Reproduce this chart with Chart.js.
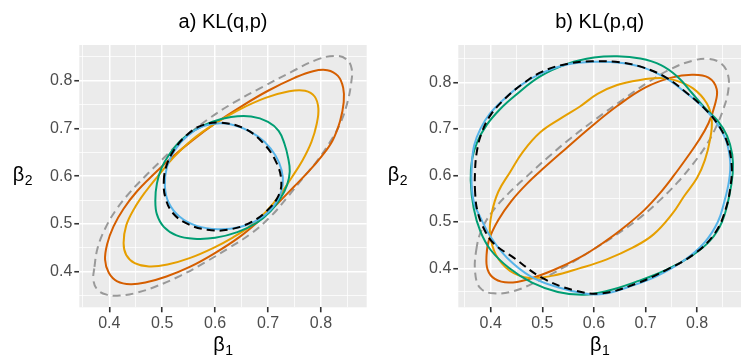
<!DOCTYPE html>
<html>
<head>
<meta charset="utf-8">
<script src="https://cdn.jsdelivr.net/npm/chart.js@4.4.0/dist/chart.umd.min.js"></script>
<style>
  html, body { margin: 0; padding: 0; background: #fff; }
  #wrap { position: relative; width: 742px; height: 360px; }
  .panel { position: absolute; top: 0; width: 371px; height: 360px; }
  #pa { left: 0; }
  #pb { left: 371px; }
</style>
</head>
<body>
<div id="wrap">
  <div class="panel" id="pa"><canvas id="chartA" width="371" height="360"></canvas></div>
  <div class="panel" id="pb"><canvas id="chartB" width="371" height="360"></canvas></div>
</div>
<script>
// grid / tick values (same for both panels)
const gridTicks = [0.35, 0.4, 0.45, 0.5, 0.55, 0.6, 0.65, 0.7, 0.75, 0.8, 0.85];
const majorTicks = [0.4, 0.5, 0.6, 0.7, 0.8];

// panel a) KL(q,p) - closed contour lines as [beta1, beta2]
const aGrey = [[0.372,0.41],[0.378,0.45],[0.392,0.49],[0.413,0.53],[0.438,0.565],[0.466,0.598],[0.5,0.635],[0.54,0.678],[0.585,0.718],[0.635,0.754],[0.69,0.787],[0.745,0.819],[0.79,0.843],[0.825,0.852],[0.848,0.845],[0.858,0.825],[0.857,0.795],[0.85,0.755],[0.837,0.712],[0.815,0.668],[0.79,0.628],[0.765,0.595],[0.738,0.558],[0.707,0.518],[0.668,0.48],[0.625,0.449],[0.58,0.419],[0.535,0.392],[0.49,0.37],[0.452,0.356],[0.42,0.35],[0.395,0.352],[0.378,0.362],[0.37,0.382]];
const aOrange = [[0.392,0.425],[0.396,0.458],[0.408,0.495],[0.427,0.532],[0.452,0.568],[0.482,0.602],[0.517,0.638],[0.557,0.675],[0.602,0.712],[0.652,0.748],[0.70,0.779],[0.75,0.806],[0.785,0.82],[0.812,0.822],[0.832,0.81],[0.842,0.785],[0.843,0.755],[0.836,0.715],[0.822,0.675],[0.80,0.64],[0.775,0.608],[0.748,0.577],[0.718,0.543],[0.683,0.507],[0.645,0.472],[0.598,0.438],[0.552,0.41],[0.508,0.39],[0.47,0.378],[0.44,0.374],[0.415,0.38],[0.399,0.398]];
const aYellow = [[0.427,0.46],[0.432,0.497],[0.447,0.532],[0.468,0.567],[0.493,0.602],[0.522,0.64],[0.555,0.675],[0.595,0.707],[0.643,0.738],[0.695,0.764],[0.74,0.778],[0.77,0.779],[0.788,0.767],[0.795,0.742],[0.792,0.71],[0.782,0.672],[0.765,0.633],[0.745,0.598],[0.722,0.56],[0.697,0.527],[0.668,0.497],[0.634,0.472],[0.597,0.45],[0.553,0.429],[0.51,0.415],[0.475,0.411],[0.448,0.418],[0.432,0.435]];
const aGreen = [[0.487,0.55],[0.49,0.585],[0.499,0.618],[0.513,0.645],[0.535,0.675],[0.562,0.697],[0.595,0.714],[0.63,0.724],[0.668,0.725],[0.7,0.714],[0.72,0.695],[0.731,0.668],[0.738,0.638],[0.741,0.61],[0.736,0.582],[0.724,0.555],[0.705,0.527],[0.678,0.502],[0.642,0.483],[0.6,0.471],[0.56,0.469],[0.527,0.476],[0.503,0.494],[0.49,0.52]];
const aBlue = [[0.505,0.58],[0.509,0.62],[0.524,0.655],[0.548,0.685],[0.578,0.705],[0.612,0.711],[0.647,0.703],[0.68,0.684],[0.705,0.658],[0.721,0.628],[0.728,0.597],[0.725,0.568],[0.711,0.538],[0.683,0.51],[0.645,0.493],[0.605,0.489],[0.565,0.496],[0.533,0.515],[0.512,0.545]];
const aBlack = [[0.503,0.59],[0.508,0.622],[0.523,0.656],[0.546,0.686],[0.574,0.706],[0.61,0.712],[0.655,0.7],[0.692,0.668],[0.716,0.628],[0.725,0.59],[0.72,0.56],[0.7,0.53],[0.668,0.504],[0.625,0.488],[0.585,0.488],[0.548,0.5],[0.52,0.523],[0.506,0.555]];

// panel b) KL(p,q)
const bGrey = [[0.372,0.44],[0.383,0.485],[0.405,0.525],[0.435,0.562],[0.47,0.598],[0.51,0.638],[0.555,0.68],[0.605,0.722],[0.655,0.762],[0.705,0.8],[0.75,0.829],[0.79,0.846],[0.822,0.85],[0.847,0.84],[0.86,0.815],[0.86,0.78],[0.85,0.74],[0.835,0.7],[0.815,0.66],[0.79,0.622],[0.762,0.585],[0.728,0.547],[0.69,0.51],[0.645,0.474],[0.597,0.44],[0.545,0.405],[0.492,0.374],[0.445,0.352],[0.405,0.347],[0.38,0.358],[0.37,0.39]];
const bOrange = [[0.392,0.43],[0.397,0.463],[0.415,0.505],[0.44,0.545],[0.47,0.582],[0.505,0.618],[0.545,0.657],[0.593,0.703],[0.645,0.749],[0.7,0.789],[0.75,0.81],[0.79,0.816],[0.822,0.81],[0.838,0.785],[0.834,0.75],[0.822,0.712],[0.803,0.675],[0.78,0.638],[0.755,0.6],[0.728,0.562],[0.697,0.525],[0.66,0.49],[0.62,0.457],[0.573,0.424],[0.522,0.397],[0.472,0.377],[0.435,0.37],[0.408,0.378],[0.394,0.398]];
const bYellow = [[0.3986,0.476],[0.402,0.519],[0.4147,0.565],[0.438,0.608],[0.462,0.65],[0.4955,0.692],[0.538,0.724],[0.573,0.748],[0.607,0.775],[0.645,0.794],[0.6893,0.805],[0.728,0.809],[0.758,0.804],[0.792,0.787],[0.8186,0.755],[0.8283,0.719],[0.825,0.677],[0.815,0.633],[0.8,0.595],[0.775,0.556],[0.752,0.518],[0.715,0.473],[0.675,0.445],[0.625,0.42],[0.573,0.401],[0.521,0.385],[0.476,0.38],[0.4374,0.395],[0.41,0.43]];
const bGreen = [[0.3612,0.59],[0.364,0.635],[0.374,0.672],[0.392,0.708],[0.418,0.742],[0.448,0.772],[0.495,0.812],[0.55,0.84],[0.6,0.853],[0.645,0.856],[0.69,0.851],[0.73,0.837],[0.762,0.812],[0.79,0.777],[0.815,0.745],[0.84,0.717],[0.858,0.685],[0.868,0.645],[0.869,0.605],[0.862,0.555],[0.848,0.5],[0.825,0.46],[0.79,0.428],[0.74,0.397],[0.68,0.371],[0.625,0.352],[0.58,0.344],[0.53,0.35],[0.48,0.37],[0.435,0.402],[0.4,0.44],[0.38,0.48],[0.367,0.53]];
const bBlue = [[0.363,0.58],[0.3635,0.625],[0.368,0.665],[0.38,0.7],[0.398,0.732],[0.425,0.763],[0.46,0.795],[0.5,0.82],[0.548,0.838],[0.6,0.844],[0.65,0.842],[0.695,0.832],[0.735,0.812],[0.772,0.783],[0.808,0.75],[0.837,0.714],[0.856,0.675],[0.864,0.63],[0.862,0.59],[0.853,0.545],[0.84,0.5],[0.815,0.457],[0.775,0.418],[0.722,0.384],[0.665,0.36],[0.62,0.346],[0.585,0.346],[0.53,0.36],[0.478,0.383],[0.432,0.423],[0.4,0.468],[0.38,0.51],[0.368,0.54]];
const bBlack = [[0.37,0.56],[0.3695,0.605],[0.373,0.65],[0.382,0.69],[0.4,0.73],[0.428,0.765],[0.46,0.795],[0.5,0.823],[0.55,0.84],[0.6,0.845],[0.65,0.843],[0.695,0.832],[0.74,0.81],[0.78,0.777],[0.815,0.743],[0.843,0.705],[0.86,0.665],[0.867,0.62],[0.865,0.58],[0.856,0.53],[0.835,0.477],[0.795,0.432],[0.74,0.397],[0.68,0.367],[0.615,0.347],[0.56,0.354],[0.5,0.38],[0.445,0.423],[0.405,0.455],[0.385,0.49],[0.374,0.525]];

const FONT = "'Liberation Sans', Arial, sans-serif";
const isMajor = v => majorTicks.some(m => Math.abs(m - v) < 1e-6);

function contour(points, color, dashed) {
    return {
        data: points.map(p => ({ x: p[0], y: p[1] })),
        borderColor: color,
        borderWidth: 2,
        borderDash: dashed ? [8, 5] : [],
        pointRadius: 0,
        tension: 0.4,
        fill: false
    };
}

// contours are closed: make each line element loop back to its first point
const closeLoops = {
    id: 'closeLoops',
    afterDatasetUpdate(chart, args) {
        const line = args.meta.dataset;
        if (line) { line._loop = true; line._fullLoop = true; }
    }
};

// grey panel background
const panelBg = {
    id: 'panelBg',
    beforeDraw(chart) {
        const { ctx, chartArea: a } = chart;
        ctx.save();
        ctx.fillStyle = '#EBEBEB';
        ctx.fillRect(a.left, a.top, a.right - a.left, a.bottom - a.top);
        ctx.restore();
    }
};

// beta labels with subscripts, upright like the original
function drawBeta(ctx, sub, cx, baseline) {
    ctx.font = '20px ' + FONT;
    const w1 = ctx.measureText('β').width;
    ctx.font = '14px ' + FONT;
    const w2 = ctx.measureText(sub).width;
    const x0 = cx - (w1 + w2) / 2;
    ctx.textAlign = 'left';
    ctx.textBaseline = 'alphabetic';
    ctx.fillStyle = '#000';
    ctx.font = '20px ' + FONT;
    ctx.fillText('β', x0, baseline);
    ctx.font = '14px ' + FONT;
    ctx.fillText(sub, x0 + w1 + 0.5, baseline + 4);
}

const axisTitles = {
    id: 'axisTitles',
    afterDraw(chart, args, opts) {
        const { ctx, chartArea: a } = chart;
        ctx.save();
        drawBeta(ctx, '1', (a.left + a.right) / 2, 351);
        drawBeta(ctx, '2', opts.yTitleX, (a.top + a.bottom) / 2 + 5);
        ctx.restore();
    }
};

function axis(min, max, fitFn) {
    return {
        type: 'linear',
        min: min,
        max: max,
        afterBuildTicks: s => { s.ticks = gridTicks.map(v => ({ value: v })); },
        afterFit: fitFn,
        border: { display: false },
        grid: {
            color: '#FFFFFF',
            lineWidth: c => (c.tick && isMajor(c.tick.value)) ? 1.5 : 0.75,
            drawTicks: true,
            tickLength: 5,
            tickWidth: 1.6,
            tickColor: c => (c.tick && isMajor(c.tick.value)) ? '#333333' : 'rgba(0,0,0,0)'
        },
        ticks: {
            autoSkip: false,
            maxRotation: 0,
            padding: 2,
            color: '#4D4D4D',
            font: { size: 16, family: FONT },
            callback: v => isMajor(v) ? v.toFixed(1) : ''
        }
    };
}

function makePanel(id, title, curves, xr, yr, yAxisWidth, padRight, yTitleX) {
    new Chart(document.getElementById(id), {
        type: 'line',
        data: {
            // listed top-most first
            datasets: [
                contour(curves.black, '#000000', true),
                contour(curves.blue, '#56B4E9', false),
                contour(curves.green, '#009E73', false),
                contour(curves.yellow, '#E69F00', false),
                contour(curves.orange, '#D55E00', false),
                contour(curves.grey, '#999999', true)
            ]
        },
        options: {
            responsive: false,
            animation: false,
            events: [],
            layout: { padding: { left: 0, right: padRight, top: 0, bottom: 0 } },
            scales: {
                x: axis(xr[0], xr[1], s => { s.height = 52.7; }),
                y: axis(yr[0], yr[1], s => { s.width = yAxisWidth; })
            },
            plugins: {
                legend: { display: false },
                tooltip: { enabled: false },
                title: {
                    display: true,
                    text: title,
                    fullSize: false,
                    color: '#000',
                    font: { size: 20, family: FONT, weight: 'normal' },
                    padding: { top: 10, bottom: 11 }
                },
                axisTitles: { yTitleX: yTitleX }
            }
        },
        plugins: [closeLoops, panelBg, axisTitles]
    });
}

makePanel('chartA', 'a) KL(q,p)',
    { grey: aGrey, orange: aOrange, yellow: aYellow, green: aGreen, blue: aBlue, black: aBlack },
    [0.3433, 0.8864], [0.3255, 0.8748], 79.3, 4.3, 22.5);

makePanel('chartB', 'b) KL(p,q)',
    { grey: bGrey, orange: bOrange, yellow: bYellow, green: bGreen, blue: bBlue, black: bBlack },
    [0.3372, 0.885], [0.317, 0.88], 87.3, 1, 26.5);
</script>
</body>
</html>
